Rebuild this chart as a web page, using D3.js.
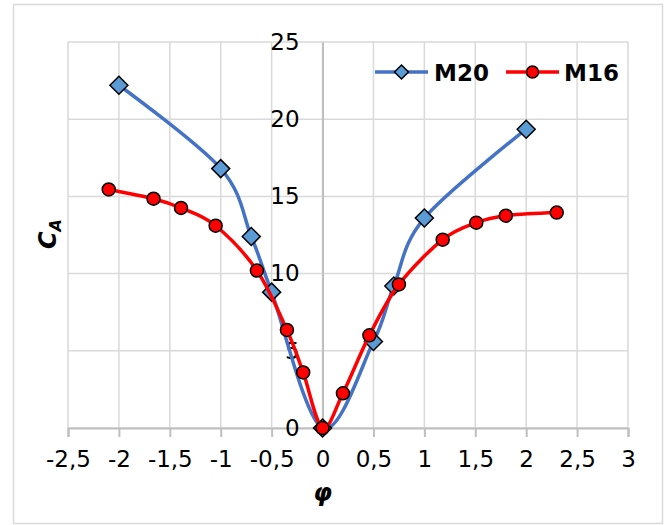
<!DOCTYPE html>
<html>
<head>
<meta charset="utf-8">
<script src="https://cdn.jsdelivr.net/npm/d3@7"></script>
<style>
  body { margin: 0; background: #fff; }
  text { font-family: "DejaVu Sans", Verdana, sans-serif; }
</style>
</head>
<body>
<svg id="chart" width="669" height="525"></svg>
<script>
const WIDTH = 669;
const HEIGHT = 525;

// M20 series
const m20Phi = [-2, -1, -0.7, -0.5, 0, 0.5, 0.7, 1, 2];
const m20Ca = [22.2, 16.8, 12.4, 8.8, 0, 5.6, 9.2, 13.6, 19.35];

// M16 series
const m16Phi = [-2.1, -1.66, -1.39, -1.05, -0.645, -0.35, -0.19, 0, 0.2, 0.46, 0.75, 1.18, 1.51, 1.8, 2.3];
const m16Ca = [15.45, 14.85, 14.25, 13.1, 10.2, 6.35, 3.6, 0, 2.25, 6.0, 9.3, 12.2, 13.3, 13.75, 13.95];

const xTicks = [-2.5, -2, -1.5, -1, -0.5, 0, 0.5, 1, 1.5, 2, 2.5, 3];
const yTicks = [0, 5, 10, 15, 20, 25];

const svg = d3.select("#chart");

// chart area border
svg.append("rect")
  .attr("x", 13.5).attr("y", 4.5)
  .attr("width", 649).attr("height", 519)
  .attr("fill", "#fff")
  .attr("stroke", "#d9d9d9")
  .attr("stroke-width", 1.5);

const x = d3.scaleLinear().domain([-2.5, 3]).range([68, 628]);
const y = d3.scaleLinear().domain([0, 25]).range([428, 42]);

const fmt = v => String(v).replace(".", ",");

// gridlines
const grid = svg.append("g");
grid.selectAll(".vg")
  .data(xTicks)
  .join("line")
  .attr("x1", d => x(d)).attr("x2", d => x(d))
  .attr("y1", y(25)).attr("y2", y(0))
  .attr("stroke", "#d9d9d9")
  .attr("stroke-width", 1.5);
grid.selectAll(".hg")
  .data(yTicks)
  .join("line")
  .attr("x1", x(-2.5)).attr("x2", x(3))
  .attr("y1", d => y(d)).attr("y2", d => y(d))
  .attr("stroke", "#d9d9d9")
  .attr("stroke-width", 1.5);

// x axis at y = 0, ticks pointing down
const xAxis = svg.append("g")
  .attr("transform", `translate(0,${y(0)})`)
  .call(d3.axisBottom(x).tickValues(xTicks).tickSize(9).tickPadding(14).tickFormat(fmt));
xAxis.select(".domain").attr("stroke", "#bfbfbf").attr("stroke-width", 2);
xAxis.selectAll(".tick line").attr("stroke", "#bfbfbf").attr("stroke-width", 2);
xAxis.selectAll(".tick text")
  .attr("font-size", 23)
  .attr("font-family", "DejaVu Sans")
  .attr("fill", "#000");

// y axis at x = 0, no tick marks
const yAxis = svg.append("g")
  .attr("transform", `translate(${x(0)},0)`)
  .call(d3.axisLeft(y).tickValues(yTicks).tickSize(0).tickPadding(23));
yAxis.select(".domain").attr("stroke", "#bfbfbf").attr("stroke-width", 2);
yAxis.selectAll(".tick text")
  .attr("font-size", 23)
  .attr("font-family", "DejaVu Sans")
  .attr("fill", "#000");

const line = d3.line()
  .x(d => x(d[0]))
  .y(d => y(d[1]))
  .curve(d3.curveCardinal.tension(0));

const m20 = m20Phi.map((p, i) => [p, m20Ca[i]]);
const m16 = m16Phi.map((p, i) => [p, m16Ca[i]]);

const diamond = s => `M0,${-s}L${s},0L0,${s}L${-s},0Z`;

// M20
svg.append("path")
  .datum(m20)
  .attr("d", line)
  .attr("fill", "none")
  .attr("stroke", "#4472c4")
  .attr("stroke-width", 3.5);
svg.append("g").selectAll("path")
  .data(m20)
  .join("path")
  .attr("transform", d => `translate(${x(d[0])},${y(d[1])})`)
  .attr("d", diamond(9))
  .attr("fill", "#5b9bd5")
  .attr("stroke", "#000")
  .attr("stroke-width", 1.5);

// M16
svg.append("path")
  .datum(m16)
  .attr("d", line)
  .attr("fill", "none")
  .attr("stroke", "#ff0000")
  .attr("stroke-width", 3.5);
svg.append("g").selectAll("circle")
  .data(m16)
  .join("circle")
  .attr("cx", d => x(d[0]))
  .attr("cy", d => y(d[1]))
  .attr("r", 6.5)
  .attr("fill", "#ff0000")
  .attr("stroke", "#000")
  .attr("stroke-width", 1.5);

// legend
const legend = svg.append("g").attr("transform", "translate(375,72)");
legend.append("line")
  .attr("x1", 0).attr("x2", 53)
  .attr("stroke", "#4472c4").attr("stroke-width", 3.5);
legend.append("path")
  .attr("transform", "translate(26.5,0)")
  .attr("d", diamond(7))
  .attr("fill", "#5b9bd5").attr("stroke", "#000").attr("stroke-width", 1.5);
legend.append("text")
  .attr("x", 59).attr("y", 8.5)
  .attr("font-size", 23).attr("font-weight", "bold")
  .text("M20");
legend.append("line")
  .attr("x1", 131).attr("x2", 184)
  .attr("stroke", "#ff0000").attr("stroke-width", 3.5);
legend.append("circle")
  .attr("cx", 157.5).attr("cy", 0).attr("r", 6)
  .attr("fill", "#ff0000").attr("stroke", "#000").attr("stroke-width", 1.5);
legend.append("text")
  .attr("x", 189).attr("y", 8.5)
  .attr("font-size", 23).attr("font-weight", "bold")
  .text("M16");

// axis titles
const yTitle = svg.append("text")
  .attr("transform", "translate(56,234) rotate(-90)")
  .attr("text-anchor", "middle")
  .attr("font-size", 24)
  .attr("font-weight", "bold")
  .attr("font-style", "italic");
yTitle.append("tspan").text("C");
yTitle.append("tspan").attr("font-size", 16).attr("dy", 5).text("A");

svg.append("text")
  .attr("x", x(0))
  .attr("y", 501)
  .attr("text-anchor", "middle")
  .attr("font-size", 24)
  .attr("font-weight", "bold")
  .attr("font-style", "italic")
  .text("φ");
</script>
</body>
</html>
